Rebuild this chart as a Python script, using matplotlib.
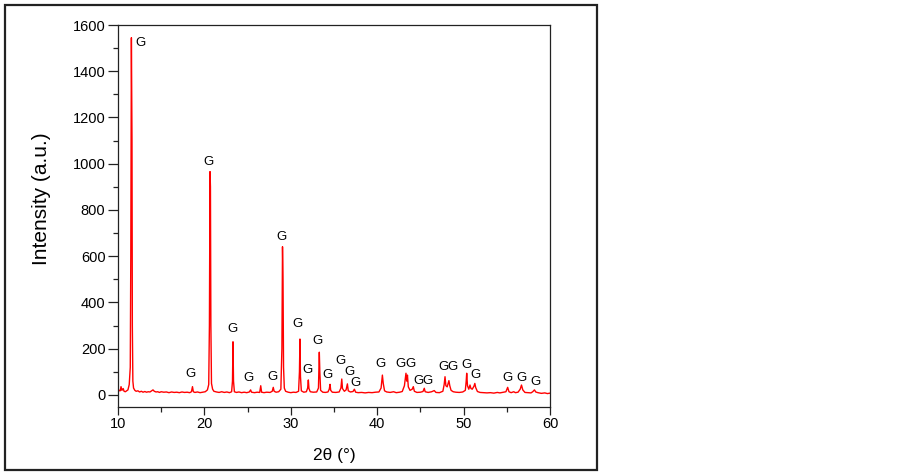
import matplotlib
matplotlib.use("Agg")
import matplotlib.pyplot as plt
from matplotlib.patches import Rectangle
from matplotlib.ticker import MultipleLocator

plt.rcParams['font.family'] = ['Liberation Sans', 'DejaVu Sans']

# XRD pattern vertices (2theta in degrees, intensity in a.u.)
two_theta = [
    10.0, 10.15, 10.25, 10.35, 10.45, 10.6, 10.7, 10.85, 11.0, 11.15,
    11.3, 11.42, 11.48, 11.55, 11.62, 11.66, 11.72, 11.8, 11.95, 12.1,
    12.3, 12.5, 12.7, 12.9, 13.1, 13.3, 13.5, 13.7, 13.9, 14.05,
    14.2, 14.4, 14.6, 14.8, 15.0, 15.3, 15.6, 15.9, 16.2, 16.5,
    16.8, 17.1, 17.4, 17.7, 18.0, 18.3, 18.5, 18.62, 18.72, 18.9,
    19.2, 19.5, 19.8, 20.1, 20.35, 20.5, 20.58, 20.65, 20.7, 20.75,
    20.82, 20.95, 21.1, 21.4, 21.7, 22.0, 22.3, 22.6, 22.9, 23.15,
    23.25, 23.31, 23.37, 23.47, 23.7, 24.0, 24.3, 24.6, 24.9, 25.2,
    25.35, 25.45, 25.8, 26.1, 26.4, 26.52, 26.62, 26.9, 27.2, 27.6,
    27.85, 27.97, 28.07, 28.3, 28.6, 28.85, 28.97, 29.04, 29.1, 29.16,
    29.25, 29.4, 29.7, 30.0, 30.3, 30.6, 30.9, 31.0, 31.06, 31.12,
    31.22, 31.5, 31.8, 31.95, 32.03, 32.1, 32.25, 32.6, 33.0, 33.2,
    33.3, 33.36, 33.45, 33.7, 34.0, 34.3, 34.45, 34.54, 34.62, 34.8,
    35.2, 35.6, 35.8, 35.9, 35.98, 36.2, 36.4, 36.55, 36.65, 36.9,
    37.2, 37.36, 37.5, 37.8, 38.2, 38.6, 39.0, 39.4, 39.8, 40.2,
    40.45, 40.6, 40.7, 40.85, 41.1, 41.5, 41.9, 42.2, 42.6, 42.9,
    43.15, 43.33, 43.42, 43.5, 43.6, 43.8, 44.05, 44.18, 44.3, 44.6,
    45.0, 45.3, 45.45, 45.55, 45.9, 46.3, 46.6, 46.8, 47.2, 47.6,
    47.75, 47.85, 47.95, 48.1, 48.3, 48.4, 48.55, 48.8, 49.1, 49.5,
    49.9, 50.2, 50.3, 50.36, 50.45, 50.6, 50.74, 50.85, 51.0, 51.2,
    51.3, 51.4, 51.6, 51.9, 52.3, 52.7, 53.1, 53.5, 53.9, 54.2,
    54.6, 54.9, 55.1, 55.25, 55.5, 55.8, 56.0, 56.3, 56.55, 56.7,
    56.85, 57.1, 57.4, 57.8, 58.0, 58.2, 58.35, 58.6, 59.0, 59.4,
    59.7, 60.0,
]
intensity = [
    14, 20, 18, 36, 20, 28, 16, 14, 18, 22,
    45, 120, 600, 1545, 1100, 300, 60, 30, 20, 16,
    18, 13, 16, 12, 15, 12, 14, 13, 18, 22,
    16, 13, 14, 11, 14, 12, 13, 10, 13, 11,
    12, 10, 13, 11, 12, 10, 14, 36, 14, 11,
    13, 10, 12, 14, 22, 45, 300, 966, 900, 300,
    50, 25, 16, 13, 11, 14, 11, 13, 10, 14,
    60, 230, 60, 14, 11, 13, 10, 12, 10, 13,
    22, 12, 10, 12, 11, 40, 12, 10, 12, 11,
    16, 33, 16, 12, 14, 25, 200, 641, 500, 120,
    30, 16, 12, 10, 12, 11, 16, 100, 242, 80,
    18, 12, 14, 30, 65, 28, 14, 12, 13, 30,
    185, 100, 20, 12, 11, 13, 25, 46, 20, 12,
    11, 13, 30, 69, 28, 16, 22, 48, 18, 13,
    15, 25, 12, 10, 11, 9, 11, 10, 12, 13,
    30, 86, 50, 18, 13, 11, 14, 10, 12, 15,
    40, 94, 60, 86, 35, 20, 25, 36, 16, 11,
    12, 15, 29, 14, 11, 14, 19, 11, 10, 16,
    45, 79, 40, 35, 62, 40, 20, 14, 12, 11,
    13, 20, 60, 94, 40, 25, 43, 28, 25, 38,
    50, 32, 15, 11, 10, 9, 10, 8, 11, 9,
    12, 14, 33, 14, 10, 14, 10, 12, 25, 43,
    22, 11, 10, 9, 14, 22, 13, 10, 7, 9,
    6, 8,
]

# "G" phase labels (positions, data coordinates)
label_x = [12.55, 20.45, 18.35, 23.2, 25.05, 27.9, 28.9, 30.75, 31.95, 33.05,
           34.3, 35.7, 36.8, 37.45, 40.4, 42.7, 43.85, 44.75, 45.8, 47.65,
           48.7, 50.3, 51.4, 55.1, 56.7, 58.35]
label_y = [1522, 1006, 91, 285, 75, 78, 683, 307, 110, 233,
           85, 146, 99, 52, 132, 132, 132, 59, 59, 121,
           121, 130, 86, 73, 75, 56]
label_text = ['G'] * len(label_x)

W, H = 903, 472
fig = plt.figure(figsize=(W / 100, H / 100), dpi=100)

# outer frame around the chart
fig.patches.append(Rectangle((5 / W, 2 / H), 592 / W, 465 / H, transform=fig.transFigure,
                             fill=False, edgecolor='#222222', linewidth=1.6))

ax = fig.add_axes([118 / W, 1 - 407 / H, 432 / W, 382 / H])
ax.plot(two_theta, intensity, color='#ff0000', linewidth=1.0)

for x, y, t in zip(label_x, label_y, label_text):
    ax.text(x, y, t, ha='center', va='center', fontsize=9.5, color='black')

ax.set_xlim(10, 60)
ax.set_ylim(-52, 1600)
ax.xaxis.set_major_locator(MultipleLocator(10))
ax.xaxis.set_minor_locator(MultipleLocator(5))
ax.yaxis.set_major_locator(MultipleLocator(200))
ax.yaxis.set_minor_locator(MultipleLocator(100))
ax.set_yticks(range(0, 1601, 200))

ax.tick_params(axis='both', which='both', direction='out', top=False, right=False,
               width=0.9, color='#222222', labelsize=10.5)
ax.tick_params(axis='y', which='major', length=7.5, pad=1.5)
ax.tick_params(axis='y', which='minor', length=3.8)
ax.tick_params(axis='x', which='major', length=6, pad=1.5)
ax.tick_params(axis='x', which='minor', length=3.5)
for s in ax.spines.values():
    s.set_linewidth(0.9)
    s.set_color('#222222')

ax.set_xlabel('2θ (°)', fontsize=12.5, labelpad=12)
fig.text(42 / W, 1 - 199 / H, 'Intensity (a.u.)', rotation=90, ha='center', va='center',
         fontsize=15)

fig.savefig('out.png', dpi=100)
